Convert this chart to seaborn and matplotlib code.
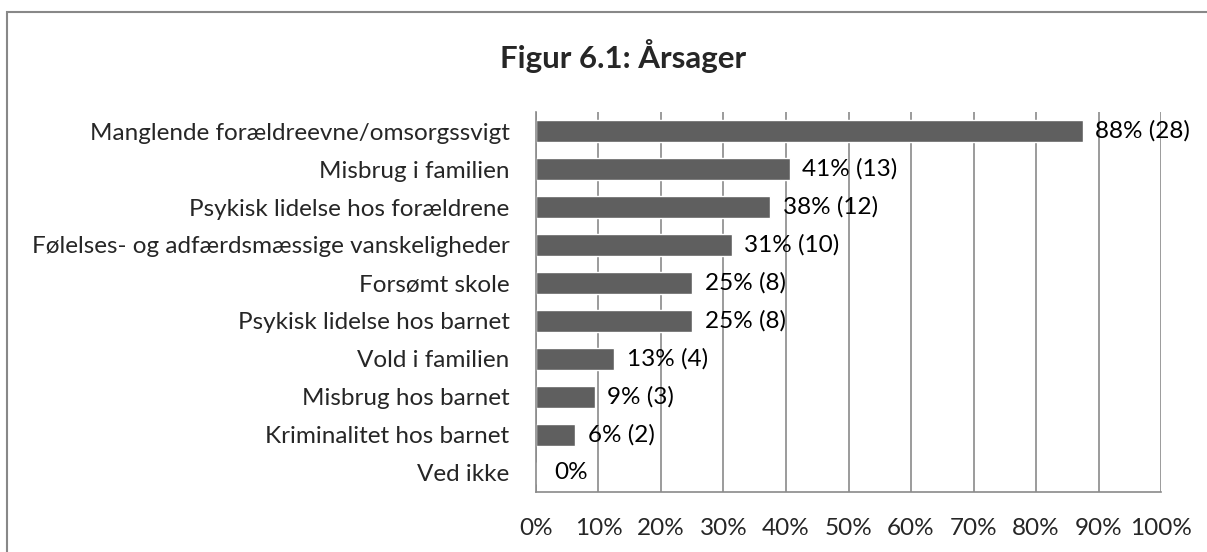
import seaborn as sns
import pandas as pd
import matplotlib.pyplot as plt
from matplotlib.patches import Rectangle

categories = ['Manglende forældreevne/omsorgssvigt', 'Misbrug i familien',
              'Psykisk lidelse hos forældrene', 'Følelses- og adfærdsmæssige vanskeligheder',
              'Forsømt skole', 'Psykisk lidelse hos barnet', 'Vold i familien',
              'Misbrug hos barnet', 'Kriminalitet hos barnet', 'Ved ikke']
percent = [87.5, 40.6, 37.5, 31.3, 25.0, 25.0, 12.5, 9.4, 6.3, 0.0]
bar_labels = ['88% (28)', '41% (13)', '38% (12)', '31% (10)', '25% (8)', '25% (8)',
              '13% (4)', '9% (3)', '6% (2)', '0%']
xticks = [0, 10, 20, 30, 40, 50, 60, 70, 80, 90, 100]

df = pd.DataFrame({'kategori': categories, 'procent': percent})

sns.set_style('white')
plt.rcParams['font.family'] = ['Lato', 'DejaVu Sans']

fig = plt.figure(figsize=(12.07, 5.52), dpi=100)
ax = fig.add_axes([0.444, 0.109, 0.518, 0.688])

sns.barplot(data=df, x='procent', y='kategori', color='#5f5f5f', saturation=1,
            width=0.58, ax=ax)

fs = 17.5
grid = '#8a8a8a'
ax.set_xlim(0, 100)
ax.set_xticks(xticks)
ax.set_xticklabels([f'{t}%' for t in xticks], fontsize=fs)
ax.tick_params(axis='x', length=0, pad=19)
ax.tick_params(axis='y', length=0, pad=19, labelsize=fs)
ax.xaxis.grid(True, color=grid, linewidth=1.2)
ax.set_axisbelow(True)
for s in ['top', 'right']:
    ax.spines[s].set_visible(False)
for s in ['left', 'bottom']:
    ax.spines[s].set_color(grid)
    ax.spines[s].set_linewidth(1.2)
ax.set_xlabel('')
ax.set_ylabel('')

for i, (v, lab) in enumerate(zip(percent, bar_labels)):
    ax.annotate(lab, (v, i), xytext=(9 if v > 0 else 13, 0), textcoords='offset points',
                va='center', ha='left', fontsize=fs, color='black')

fig.text(0.516, 0.898, 'Figur 6.1: Årsager', ha='center', va='center',
         fontsize=22.5, fontweight='bold')

fig.patches.append(Rectangle((7 / 1207, -0.1), 1.2, 1 - 12 / 552 + 0.1,
                             transform=fig.transFigure, fill=False,
                             edgecolor='#888888', linewidth=1.5))

fig.savefig('out.png', dpi=100)
